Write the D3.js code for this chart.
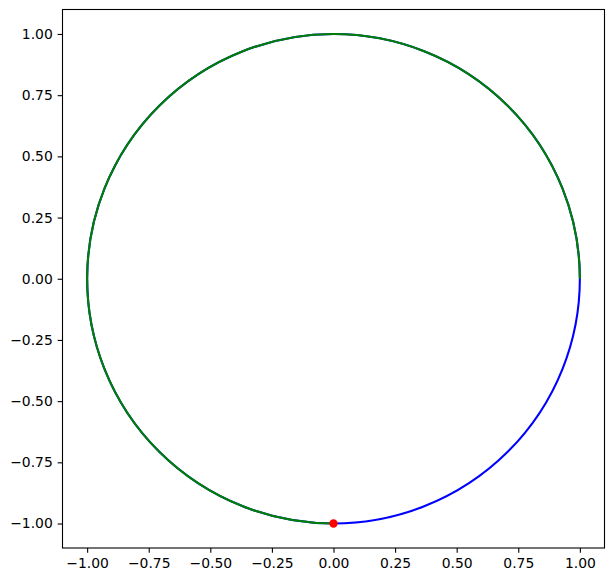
<!DOCTYPE html>
<html>
<head>
<meta charset="utf-8">
<script src="https://cdn.jsdelivr.net/npm/d3@7"></script>
<style>
  body { margin: 0; background: #fff; }
  .tick text { font-family: "DejaVu Sans", sans-serif; font-size: 13.9px; fill: #000; }
</style>
</head>
<body>
<div id="chart"></div>
<script>
// circle and arc
const center = [0, 0]
const radius = 1
const arcStart = [1, 0]   // green arc start (angle 0)
const arcEnd = [0, -1]    // green arc end (angle 270 deg, ccw)
const point = [0, -1]     // red dot
const xTicks = [-1, -0.75, -0.5, -0.25, 0, 0.25, 0.5, 0.75, 1]
const yTicks = [-1, -0.75, -0.5, -0.25, 0, 0.25, 0.5, 0.75, 1]
const xDomain = [-1.1, 1.1]
const yDomain = [-1.1, 1.1]

const width = 614
const height = 582
const mLeft = 62.5, mRight = 604.5, mTop = 9.5, mBottom = 548

const x = d3.scaleLinear().domain(xDomain).range([mLeft, mRight])
const y = d3.scaleLinear().domain(yDomain).range([mBottom, mTop])

const fmt = d => d3.format('.2f')(d).replace('-', '\u2212')

const svg = d3.select('#chart')
  .append('svg')
  .attr('width', width)
  .attr('height', height)

const rx = x(center[0] + radius) - x(center[0])
const ry = y(center[1]) - y(center[1] + radius)

// full blue circle
svg.append('ellipse')
  .attr('cx', x(center[0]))
  .attr('cy', y(center[1]))
  .attr('rx', rx)
  .attr('ry', ry)
  .attr('fill', 'none')
  .attr('stroke', '#0000ff')
  .attr('stroke-width', 2.08)

// green arc, 270 degrees counterclockwise
svg.append('path')
  .attr('d', `M${x(arcStart[0])},${y(arcStart[1])} A${rx},${ry} 0 1 0 ${x(arcEnd[0])},${y(arcEnd[1])}`)
  .attr('fill', 'none')
  .attr('stroke', '#008000')
  .attr('stroke-width', 2.08)

svg.append('circle')
  .attr('cx', x(point[0]))
  .attr('cy', y(point[1]))
  .attr('r', 4.17)
  .attr('fill', '#ff0000')

const xAxis = svg.append('g')
  .attr('transform', `translate(0,${mBottom})`)
  .call(d3.axisBottom(x).tickValues(xTicks).tickFormat(fmt).tickSize(4.86).tickPadding(4.86))
const yAxis = svg.append('g')
  .attr('transform', `translate(${mLeft},0)`)
  .call(d3.axisLeft(y).tickValues(yTicks).tickFormat(fmt).tickSize(4.86).tickPadding(4.86))

for (const ax of [xAxis, yAxis]) {
  ax.select('.domain').remove()
  ax.selectAll('.tick line').attr('stroke', '#000').attr('stroke-width', 1.1)
}

// frame
svg.append('rect')
  .attr('x', mLeft)
  .attr('y', mTop)
  .attr('width', mRight - mLeft)
  .attr('height', mBottom - mTop)
  .attr('fill', 'none')
  .attr('stroke', '#000')
  .attr('stroke-width', 1.1)
</script>
</body>
</html>
